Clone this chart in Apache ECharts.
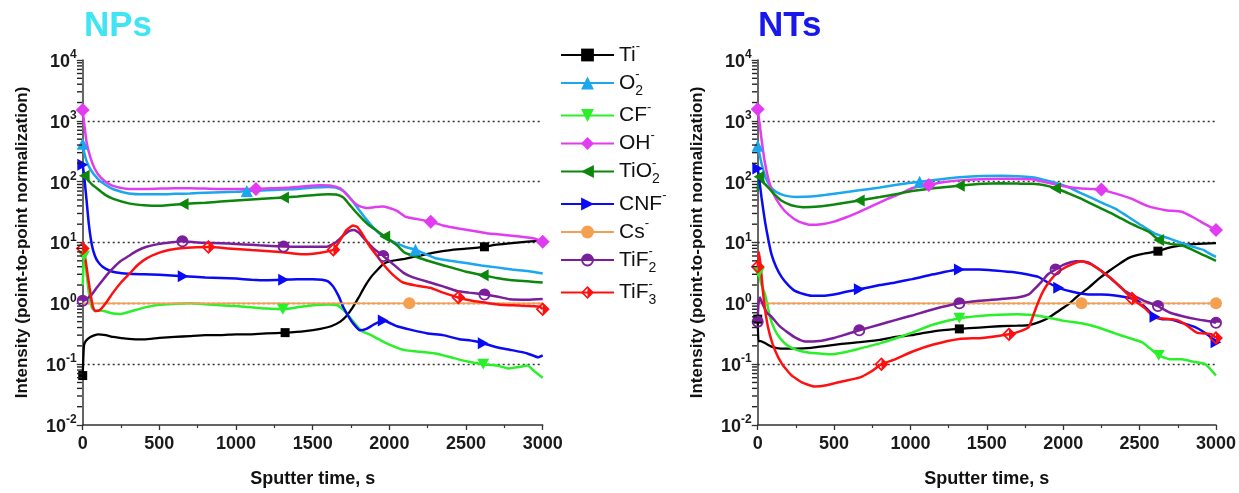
<!DOCTYPE html>
<html><head><meta charset="utf-8">
<script src="https://cdn.jsdelivr.net/npm/echarts@6/dist/echarts.min.js"></script>
<style>html,body{margin:0;padding:0;background:#fff}#c{width:1239px;height:493px}</style>
</head><body><div id="c"></div><script>
// ---------- DATA (time s, normalized intensity) ----------
const seriesNames = ['Ti-','O2-','CF-','OH-','TiO2-','CNF-','Cs-','TiF2-','TiF3-'];
const xTickValues = [0,500,1000,1500,2000,2500,3000];

// NPs panel
const npsTi = [[0,0.065],[8,0.2],[20,0.24],[50,0.28],[100,0.31],[150,0.3],[200,0.28],[300,0.26],[400,0.255],[500,0.27],[600,0.28],[700,0.29],[800,0.3],[900,0.3],[1000,0.31],[1100,0.31],[1200,0.32],[1320,0.33],[1450,0.35],[1550,0.38],[1620,0.42],[1680,0.5],[1720,0.62],[1760,0.85],[1800,1.25],[1840,1.9],[1880,2.7],[1920,3.5],[1960,4.4],[2000,4.9],[2100,5.4],[2200,6.1],[2300,6.9],[2400,7.5],[2500,7.9],[2620,8.5],[2700,9.2],[2800,9.8],[2900,10.3],[3000,10.8]];
const npsO2 = [[0,420],[10,300],[25,220],[50,160],[100,110],[150,88],[200,75],[300,64],[400,62],[500,62],[600,63],[700,64],[800,66],[900,67],[1000,68],[1070,70],[1200,72],[1300,74],[1400,76],[1500,80],[1600,82],[1650,80],[1700,70],[1750,52],[1800,35],[1850,24],[1900,17],[1950,13],[2000,11],[2100,8.5],[2170,7.6],[2300,5.5],[2400,5],[2500,4.6],[2600,4.2],[2700,3.9],[2800,3.6],[2900,3.4],[3000,3.1]];
const npsCF = [[0,2],[8,6],[20,4],[40,1.5],[60,0.85],[80,0.75],[120,0.76],[200,0.68],[250,0.67],[300,0.72],[400,0.85],[500,0.95],[600,0.98],[700,1.0],[800,0.97],[900,0.93],[1000,0.9],[1100,0.86],[1200,0.82],[1305,0.8],[1400,0.86],[1500,0.93],[1600,0.96],[1660,0.93],[1700,0.78],[1740,0.6],[1780,0.45],[1820,0.35],[1880,0.3],[1940,0.25],[2000,0.21],[2100,0.17],[2200,0.16],[2300,0.15],[2400,0.13],[2450,0.12],[2520,0.11],[2612,0.1],[2700,0.095],[2780,0.085],[2850,0.09],[2900,0.095],[2950,0.075],[3000,0.06]];
const npsOH = [[0,1500],[10,900],[25,450],[50,250],[80,160],[120,115],[170,92],[220,82],[300,76],[400,76],[500,77],[600,78],[700,78],[800,77],[900,76],[1000,76],[1130,76],[1250,78],[1350,80],[1450,84],[1550,87],[1620,86],[1680,78],[1720,62],[1760,48],[1800,40],[1850,37],[1900,38],[1950,39],[2000,37],[2050,33],[2100,27],[2150,25],[2270,22],[2350,19],[2450,17],[2550,15.5],[2650,14],[2750,13.3],[2850,12.5],[2950,11.5],[3000,10.3]];
const npsTiO2 = [[0,130],[10,125],[30,110],[60,90],[100,75],[150,60],[200,52],[300,44],[400,41],[500,40],[655,43],[800,45],[900,47],[1000,49],[1100,51],[1200,53],[1310,55],[1400,57],[1500,60],[1600,62],[1660,61],[1700,55],[1740,42],[1780,32],[1820,25],[1870,19],[1920,15.5],[1970,12.5],[2050,9],[2100,6.8],[2200,5.5],[2300,4.6],[2400,3.9],[2500,3.3],[2612,2.9],[2700,2.6],[2800,2.4],[2900,2.3],[3000,2.2]];
const npsCNF = [[0,190],[10,120],[25,50],[40,20],[60,9],[80,6],[100,4.8],[130,4],[170,3.5],[220,3.2],[300,3.05],[400,3.0],[500,2.95],[655,2.8],[800,2.65],[900,2.6],[1000,2.55],[1100,2.45],[1200,2.4],[1310,2.45],[1400,2.5],[1500,2.5],[1560,2.45],[1600,2.3],[1633,1.9],[1670,1.3],[1700,0.86],[1735,0.6],[1763,0.47],[1808,0.36],[1850,0.38],[1900,0.45],[1960,0.52],[2000,0.48],[2050,0.42],[2136,0.37],[2250,0.32],[2350,0.3],[2450,0.26],[2550,0.24],[2612,0.22],[2700,0.19],[2800,0.17],[2900,0.15],[2970,0.13],[3000,0.14]];
const npsCs = [[0,1],[2130,1],[3000,1]];
const npsTiF2 = [[0,1.1],[5,1.1],[30,1.2],[60,1.4],[91,1.8],[130,2.4],[170,3.2],[198,3.8],[250,5],[300,6],[350,7.2],[417,8.5],[500,9.5],[570,10],[650,10.5],[750,10],[850,9.8],[950,9.6],[1050,9.3],[1150,9],[1310,8.6],[1450,8.5],[1592,8.5],[1650,10],[1700,13],[1740,15.5],[1770,16],[1800,14.5],[1850,10.5],[1900,7.8],[1960,6],[2020,4.5],[2090,3.2],[2150,2.7],[2266,2.2],[2350,1.9],[2440,1.6],[2520,1.5],[2620,1.4],[2700,1.3],[2785,1.17],[2900,1.15],[3000,1.18]];
const npsTiF3 = [[0,8],[10,7],[25,4],[45,1.8],[65,0.9],[80,0.75],[113,0.78],[150,1.0],[198,1.5],[250,2.2],[307,3.1],[360,4.3],[417,5.5],[500,6.8],[570,7.6],[680,8.2],[820,8.4],[950,8],[1100,7.5],[1287,7],[1440,6.4],[1550,6.8],[1635,7.6],[1680,11],[1720,16],[1763,19],[1790,18],[1830,13],[1874,8.5],[1920,6],[1960,4.4],[2020,3],[2090,2.2],[2180,1.95],[2266,1.8],[2350,1.5],[2450,1.25],[2540,1.1],[2612,1.04],[2720,0.95],[2850,0.92],[2980,0.88],[3000,0.8]];

// NTs panel
const ntsTi = [[0,0.55],[5,0.24],[20,0.24],[50,0.22],[100,0.19],[150,0.18],[250,0.18],[350,0.185],[450,0.2],[550,0.215],[665,0.23],[800,0.25],[900,0.28],[1010,0.3],[1100,0.33],[1200,0.36],[1320,0.38],[1450,0.4],[1580,0.42],[1700,0.43],[1775,0.44],[1850,0.5],[1905,0.58],[1970,0.75],[2035,0.97],[2100,1.35],[2165,1.8],[2230,2.5],[2300,3.4],[2370,4.5],[2430,5.6],[2520,6.5],[2620,7.2],[2700,8.3],[2775,9],[2850,9.4],[2920,9.6],[3000,9.8]];
const ntsO2 = [[0,390],[10,300],[25,200],[50,120],[80,85],[120,68],[180,59],[255,56],[350,57],[450,61],[550,66],[665,72],[800,80],[900,88],[1060,100],[1200,110],[1320,118],[1470,124],[1600,125],[1700,123],[1795,118],[1870,108],[1970,93],[2050,78],[2120,64],[2200,52],[2280,42],[2340,36],[2420,27],[2500,20],[2600,14],[2700,11.5],[2775,9.8],[2850,8.5],[2920,7.5],[2970,6.3],[3000,5.8]];
const ntsCF = [[0,2.8],[8,3.2],[20,2.2],[48,1.4],[80,0.6],[113,0.36],[150,0.26],[198,0.2],[260,0.17],[330,0.155],[420,0.148],[480,0.145],[560,0.155],[665,0.18],[800,0.22],[930,0.28],[1010,0.33],[1150,0.45],[1320,0.57],[1450,0.62],[1580,0.65],[1700,0.66],[1775,0.65],[1850,0.62],[1905,0.58],[2000,0.52],[2120,0.47],[2230,0.4],[2340,0.32],[2430,0.27],[2515,0.23],[2570,0.18],[2625,0.14],[2700,0.12],[2775,0.12],[2850,0.11],[2930,0.1],[3000,0.065]];
const ntsOH = [[0,1550],[10,1000],[25,500],[45,220],[70,110],[100,65],[150,40],[200,29],[270,22],[342,19.5],[420,20],[500,22],[580,26],[665,32],[750,40],[850,52],[950,66],[1010,78],[1120,88],[1200,97],[1320,105],[1470,110],[1600,112],[1700,111],[1795,110],[1870,100],[1950,90],[2015,83],[2100,78],[2180,76],[2250,74],[2350,63],[2450,52],[2550,40],[2670,34],[2775,32],[2850,26],[2930,20],[3000,16]];
const ntsTiO2 = [[0,70],[8,120],[20,105],[40,95],[70,80],[110,62],[160,48],[220,41],[300,38],[400,39],[500,42],[665,49],[800,56],[900,62],[1010,70],[1150,78],[1320,86],[1470,92],[1600,94],[1700,93],[1795,92],[1870,88],[1950,78],[2050,62],[2120,52],[2230,38],[2340,28],[2450,20],[2560,15],[2625,11],[2700,9.5],[2775,9],[2850,7.5],[2920,6.2],[3000,5]];
const ntsCNF = [[0,165],[10,110],[25,55],[48,22],[70,11],[91,6.3],[120,4],[157,2.7],[200,2],[244,1.6],[300,1.42],[352,1.33],[420,1.33],[500,1.4],[580,1.55],[665,1.7],[800,2],[900,2.2],[1010,2.5],[1150,3],[1320,3.6],[1450,3.6],[1550,3.45],[1690,3.2],[1760,3],[1840,2.7],[1900,2.2],[1970,1.8],[2060,1.55],[2165,1.4],[2250,1.4],[2340,1.35],[2450,1.2],[2500,1.05],[2550,0.8],[2600,0.6],[2650,0.55],[2700,0.55],[2775,0.48],[2870,0.4],[2950,0.3],[3000,0.23]];
const ntsCs = [[0,1],[2120,1],[3000,1]];
const ntsTiF2 = [[0,0.5],[5,1.0],[15,1.25],[30,1.0],[60,0.7],[91,0.6],[140,0.43],[198,0.33],[250,0.27],[310,0.235],[400,0.24],[500,0.27],[580,0.31],[665,0.36],[800,0.45],[900,0.53],[1010,0.63],[1150,0.8],[1320,1.0],[1450,1.1],[1580,1.17],[1700,1.25],[1775,1.4],[1820,1.8],[1860,2.3],[1900,3],[1950,3.6],[2000,4.3],[2080,4.9],[2165,4.7],[2230,3.7],[2300,2.7],[2350,2.1],[2405,1.6],[2470,1.3],[2530,1.1],[2620,0.9],[2700,0.7],[2775,0.62],[2870,0.55],[2970,0.5],[3000,0.48]];
const ntsTiF3 = [[0,4],[8,7],[20,4],[35,1.5],[55,0.6],[80,0.3],[113,0.17],[160,0.1],[220,0.066],[290,0.05],[370,0.043],[450,0.045],[550,0.052],[665,0.06],[740,0.075],[810,0.1],[900,0.12],[1010,0.16],[1150,0.21],[1320,0.26],[1470,0.27],[1645,0.31],[1720,0.35],[1775,0.41],[1810,0.7],[1840,1.1],[1870,1.6],[1905,2.2],[1950,3],[1990,3.6],[2060,4.4],[2120,4.9],[2180,4.4],[2250,3.4],[2320,2.5],[2380,1.8],[2450,1.2],[2530,0.85],[2600,0.58],[2670,0.56],[2745,0.53],[2800,0.45],[2875,0.33],[2970,0.31],[3000,0.27]];

// marker times (s) on each curve
const npsMarks = {'Ti-':[0,1320,2620],'O2-':[0,1070,2170],'CF-':[8,1305,2612],'OH-':[0,1130,2270,3000],'TiO2-':[10,655,1310,1970,2612],'CNF-':[0,655,1310,1960,2612],'Cs-':[2130],'TiF2-':[0,650,1310,1960,2620],'TiF3-':[0,820,1635,2450,3000]};
const ntsMarks = {'Ti-':[0,1320,2620],'O2-':[0,1060],'CF-':[8,1320,2625],'OH-':[0,1120,2250,3000],'TiO2-':[8,665,1320,1950,2625],'CNF-':[0,665,1320,1970,2600,3000],'Cs-':[2120,3000],'TiF2-':[0,665,1320,1950,2620,3000],'TiF3-':[0,810,1645,2450,3000]};

const npsData = {'Ti-':npsTi,'O2-':npsO2,'CF-':npsCF,'OH-':npsOH,'TiO2-':npsTiO2,'CNF-':npsCNF,'Cs-':npsCs,'TiF2-':npsTiF2,'TiF3-':npsTiF3};
const ntsData = {'Ti-':ntsTi,'O2-':ntsO2,'CF-':ntsCF,'OH-':ntsOH,'TiO2-':ntsTiO2,'CNF-':ntsCNF,'Cs-':ntsCs,'TiF2-':ntsTiF2,'TiF3-':ntsTiF3};

// log-axis minor tick values (2..9 x 10^d)
const minorVals = [];
for (let d = -2; d <= 3; d++) for (let k = 2; k <= 9; k++) minorVals.push(Number((k * Math.pow(10, d)).toPrecision(3)));

// ---------- STYLE ----------
const FF = 'Liberation Sans, Arial, sans-serif';
const P_DOWN = 'path://M0,0L10,0L5,9Z';
const P_LEFT = 'path://M9,0L9,10L0,5Z';
const P_RIGHT = 'path://M0,0L9,5L0,10Z';
const P_HALFC = 'path://M10,0A10,10,0,1,1,10,20A10,10,0,1,1,10,0ZM10,3A7,7,0,1,0,10,17A7,7,0,1,0,10,3ZM3,10A7,7,0,0,1,17,10Z';
const P_HALFD = 'path://M10,0L20,10L10,20L0,10ZM10,3.5L3.5,10L10,16.5L16.5,10ZM10,3.5L16.5,10L10,16.5Z';
const ST = {
  'Ti-':  {color:'#000000', symbol:'rect', size:9, w:2.3},
  'O2-':  {color:'#1AA7EE', symbol:'triangle', size:12, w:2.5},
  'CF-':  {color:'#2AF02A', symbol:P_DOWN, size:12, w:2.5},
  'OH-':  {color:'#E23CF2', symbol:'diamond', size:14, w:2.5},
  'TiO2-':{color:'#0C870C', symbol:P_LEFT, size:12, w:2.5},
  'CNF-': {color:'#0A0AF5', symbol:P_RIGHT, size:12, w:2.5},
  'Cs-':  {color:'#F5A050', symbol:'circle', size:12, w:1.6},
  'TiF2-':{color:'#7A1E9C', symbol:P_HALFC, size:12, w:2.5},
  'TiF3-':{color:'#FF1010', symbol:P_HALFD, size:14, w:2.5}
};
const legendText = {
  'Ti-':'{b|Ti}{sp|-}', 'O2-':'{b|O}{spz|-}{sb|2}', 'CF-':'{b|CF}{sp|-}', 'OH-':'{b|OH}{sp|-}',
  'TiO2-':'{b|TiO}{spz|-}{sb|2}', 'CNF-':'{b|CNF}{sp|-}', 'Cs-':'{b|Cs}{sp|-}',
  'TiF2-':'{b|TiF}{spz|-}{sb|2}', 'TiF3-':'{b|TiF}{spz|-}{sb|3}'
};

const grids = [
  {left: 82.7, top: 60, width: 460, height: 369},
  {left: 757.7, top: 60, width: 459, height: 369}
];
const axisCol = '#333';
const xAxes = grids.map((g, i) => ({
  type: 'value', gridIndex: i, min: 0, max: 3000, interval: 500,
  axisLine: {show: true, lineStyle: {color: axisCol, width: 1.5}},
  axisTick: {show: true, length: 5, lineStyle: {color: axisCol, width: 1.3}},
  minorTick: {show: true, splitNumber: 2, length: 3, lineStyle: {color: axisCol, width: 1.2}},
  splitLine: {show: false},
  axisLabel: {fontSize: 18, fontWeight: 'bold', color: '#1a1a1a', fontFamily: FF, margin: 10,
    formatter: v => xTickValues.includes(v) ? String(v) : ''},
  name: 'Sputter time, s', nameLocation: 'middle', nameGap: 45,
  nameTextStyle: {fontSize: 18, fontWeight: 'bold', color: '#111', fontFamily: FF}
}));
const yAxes = grids.map((g, i) => ({
  type: 'log', logBase: 10, gridIndex: i, min: 0.01, max: 10000, interval: 1, position: 'left',
  axisLine: {show: true, lineStyle: {color: axisCol, width: 1.5}},
  axisTick: {show: true, length: 6, lineStyle: {color: axisCol, width: 1.3}},
  splitLine: {show: true, showMinLine: false, showMaxLine: false, lineStyle: {color: '#333', width: 1.3, type: [2, 3]}},
  axisLabel: {margin: 6, fontFamily: FF,
    formatter: v => '{b|10}{s|' + Math.round(Math.log10(v)) + '}',
    rich: {
      b: {fontSize: 18, fontWeight: 'bold', color: '#1a1a1a', fontFamily: FF, lineHeight: 22, verticalAlign: 'bottom'},
      s: {fontSize: 12, fontWeight: 'bold', color: '#1a1a1a', fontFamily: FF, lineHeight: 12, verticalAlign: 'top'}
    }},
  name: 'Intensity (point-to-point normalization)', nameLocation: 'middle', nameGap: 52, nameRotate: 90,
  nameTextStyle: {fontSize: 17, fontWeight: 'bold', color: '#111', fontFamily: FF}
}));

function nearestIdx(data, t) {
  let bi = 0, bd = Infinity;
  data.forEach((p, i) => { const d = Math.abs(p[0] - t); if (d < bd) { bd = d; bi = i; } });
  return bi;
}
function mkSeries(name, data, marks, gi) {
  const s = ST[name];
  const items = data.map(p => ({value: p, symbol: 'none'}));
  marks.forEach(t => { const k = nearestIdx(data, t); items[k] = {value: data[k]}; });
  return {
    type: 'line', name, xAxisIndex: gi, yAxisIndex: gi, data: items,
    symbol: s.symbol, symbolSize: s.size, symbolKeepAspect: true, showSymbol: true, showAllSymbol: true,
    smooth: 0.15, clip: false, animation: false,
    lineStyle: {color: s.color, width: s.w}, itemStyle: {color: s.color},
    emphasis: {disabled: true}
  };
}
const series = [];
seriesNames.forEach(n => series.push(mkSeries(n, npsData[n], npsMarks[n], 0)));
seriesNames.forEach(n => series.push(mkSeries(n, ntsData[n], ntsMarks[n], 1)));
// minor ticks of the log axes, placed through the axes' own scales
[0, 1].forEach(gi => series.push({
  type: 'scatter', name: 'minorTicks' + gi, xAxisIndex: gi, yAxisIndex: gi, silent: true, clip: false,
  data: minorVals.map(v => [0, v]), symbol: 'rect', symbolSize: [5, 1.4], symbolOffset: [-3.2, 0],
  itemStyle: {color: '#222', opacity: 1}, emphasis: {disabled: true}, z: 5
}));

const chart = echarts.init(document.getElementById('c'), null, {renderer: 'canvas'});
chart.setOption({
  animation: false,
  backgroundColor: '#fff',
  title: [
    {text: 'NPs', left: 84, top: 9, padding: 0, textStyle: {color: '#3FE5F2', fontSize: 35, fontWeight: 'bold', fontFamily: FF}},
    {text: 'NTs', left: 758, top: 9, padding: 0, textStyle: {color: '#1818EC', fontSize: 35, fontWeight: 'bold', fontFamily: FF}}
  ],
  grid: grids,
  xAxis: xAxes,
  yAxis: yAxes,
  legend: {
    orient: 'vertical', left: 560, top: 40, itemWidth: 53, itemHeight: 16, itemGap: 2.5, padding: 0,
    selectedMode: false, data: seriesNames,
    formatter: n => legendText[n],
    textStyle: {fontFamily: FF, color: '#111', rich: {
      b: {fontSize: 21, color: '#111', fontFamily: FF, lineHeight: 30, verticalAlign: 'middle'},
      sp: {fontSize: 13, color: '#111', fontFamily: FF, lineHeight: 14, verticalAlign: 'top'},
      spz: {fontSize: 13, color: '#111', fontFamily: FF, lineHeight: 14, verticalAlign: 'top', width: 0.01},
      sb: {fontSize: 14, color: '#111', fontFamily: FF, lineHeight: 14, verticalAlign: 'bottom'}
    }}
  },
  series
});
</script></body></html>
